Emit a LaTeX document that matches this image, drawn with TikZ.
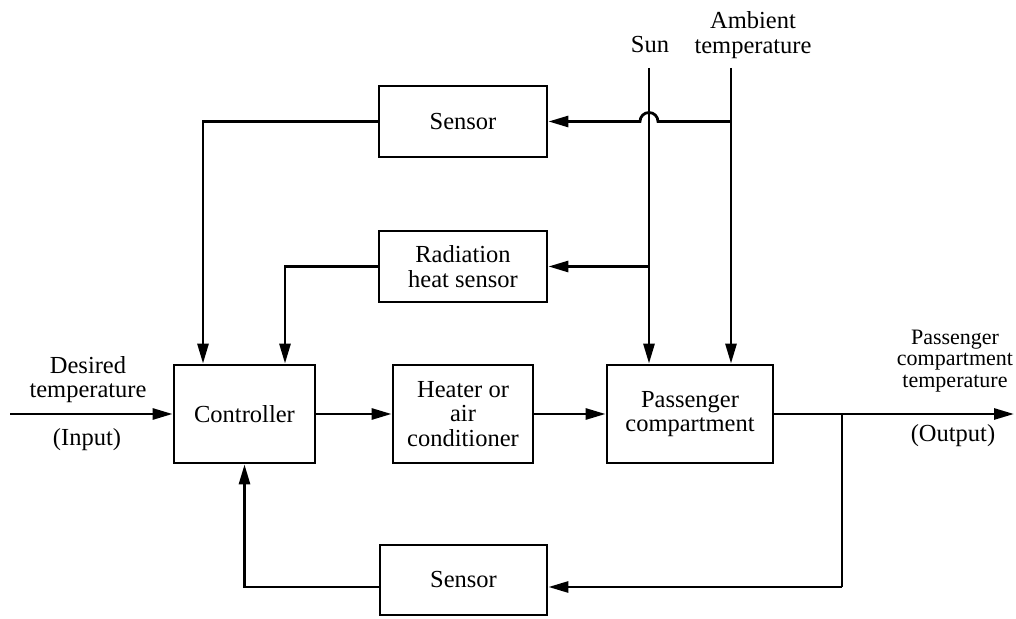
\documentclass[tikz,border=0pt]{standalone}
\usepackage{fontspec}
\setmainfont{Liberation Serif}
\usetikzlibrary{arrows.meta}
\begin{document}
\begin{tikzpicture}[x=1pt,y=1pt,
  blk/.style={draw,line width=2.8pt,rectangle,inner sep=0pt,align=center,font=\fontsize{24.5}{24.5}\selectfont},
  conn/.style={line width=2.8pt},
  arr/.style={conn,-{Triangle[length=20pt,width=11pt]}},
  lbl/.style={align=center,inner sep=0pt,font=\fontsize{24.5}{24}\selectfont}]
\useasboundingbox (0,0) rectangle (1016,618);
% blocks
\node[blk,minimum width=141pt,minimum height=98pt] (ctrl) at (244.5,204) {Controller};
\node[blk,minimum width=140pt,minimum height=98pt] (heat) at (463,204) {Heater or\\air\\conditioner};
\node[blk,minimum width=166pt,minimum height=98pt] (pass) at (690,204) {Passenger\\compartment};
\node[blk,minimum width=168pt,minimum height=71pt] (sens1) at (463,496.5) {Sensor};
\node[blk,minimum width=168pt,minimum height=71pt] (rad) at (463,351.5) {Radiation\\heat sensor};
\node[blk,minimum width=167pt,minimum height=70pt] (sens2) at (463.5,38) {Sensor};
% labels
\node[lbl] (des) at (88,238.7) {Desired\\temperature};
\node[lbl] (inp) at (87,178) {(Input)};
\node[lbl,font=\fontsize{22}{21.5}\selectfont] (outl) at (955,257) {Passenger\\compartment\\temperature};
\node[lbl] (outp) at (953,182) {(Output)};
\node[lbl] (sun) at (650,573.3) {Sun};
\node[lbl,font=\fontsize{24.5}{25}\selectfont] (amb) at (753,583.2) {Ambient\\temperature};
% coordinates
\coordinate (inS) at (10,204);
\coordinate (outE) at (1014,204);
\coordinate (br) at (842,204);
\coordinate (brB) at (842,31);
\coordinate (sunT) at (649,550);
\coordinate (ambT) at (731,550);
\coordinate (sunJ) at (649,351.5);
\coordinate (ambJ) at (731,496.5);
\coordinate (hopR) at (658,496.5);
% connectors
\draw[arr] (inS) -- (ctrl);
\draw[arr] (ctrl) -- (heat);
\draw[arr] (heat) -- (pass);
\draw[arr] (pass) -- (outE);
\draw[conn] (br) -- (brB);
\draw[arr] (brB) -- (sens2.east |- brB);
\draw[arr] (sens2.west |- brB) -| (ctrl.south);
\draw[arr] (sens1.west) -| ([xshift=-41.5pt]ctrl.north);
\draw[arr] (rad.west) -| ([xshift=40.5pt]ctrl.north);
\draw[arr] (sunT) -- (sunT |- pass.north);
\draw[arr] (ambT) -- (ambT |- pass.north);
\draw[arr] (sunJ) -- (rad.east);
\draw[arr] (ambJ) -- (hopR) arc[start angle=0,end angle=180,radius=9pt] -- (sens1.east);
\end{tikzpicture}
\end{document}
